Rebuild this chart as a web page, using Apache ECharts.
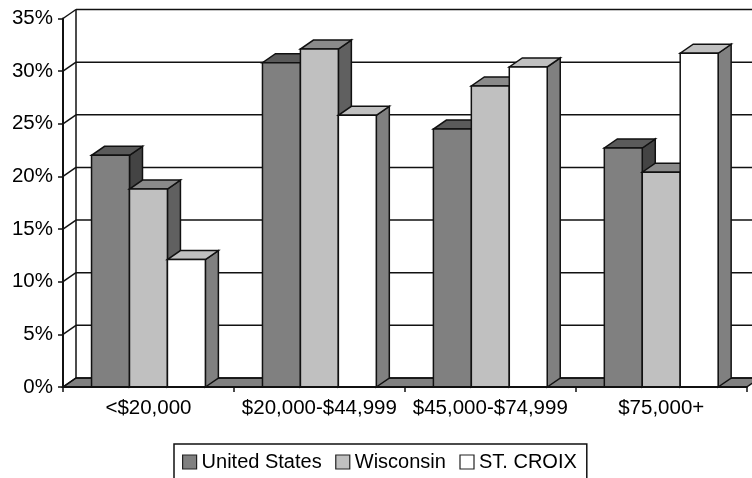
<!DOCTYPE html>
<html>
<head>
<meta charset="utf-8">
<style>html,body{margin:0;padding:0;background:#fff}#chart{width:752px;height:478px}</style>
<script src="https://cdn.jsdelivr.net/npm/echarts@6/dist/echarts.min.js"></script>
</head>
<body>
<div id="chart"></div>
<script>
// Household income distribution by area
const categories = ['<$20,000', '$20,000-$44,999', '$45,000-$74,999', '$75,000+'];
const unitedStates = [22.0, 30.8, 24.5, 22.7];
const wisconsin = [18.8, 32.1, 28.6, 20.4];
const stCroix = [12.1, 25.8, 30.4, 31.7];
const percentTicks = [0, 5, 10, 15, 20, 25, 30, 35];

// Depth of the 3-D box, in pixels along the receding diagonal
const DEPTH_X = 13;
const DEPTH_Y = -9;
const INK = '#111111';
const BAR_SHARE = 0.222;

const barStyles = [
  { front: '#808080', top: '#5a5a5a', side: '#444444' },
  { front: '#c0c0c0', top: '#8a8a8a', side: '#606060' },
  { front: '#ffffff', top: '#c0c0c0', side: '#808080' }
];

function poly(points, fill, stroke) {
  return {
    type: 'polygon',
    shape: { points },
    style: { fill, stroke: stroke || INK, lineWidth: 1.5, lineJoin: 'miter' }
  };
}

function barRenderer(seriesIndex) {
  const look = barStyles[seriesIndex];
  return function (params, api) {
    const cat = api.value(0);
    const base = api.coord([cat, 0]);
    const head = api.coord([cat, api.value(1)]);
    const w = api.size([1, 0])[0] * BAR_SHARE;
    const x0 = base[0] + (seriesIndex - 1.5) * w;
    const x1 = x0 + w;
    const y0 = base[1];
    const y1 = head[1];
    return {
      type: 'group',
      children: [
        poly([[x1, y0], [x1 + DEPTH_X, y0 + DEPTH_Y], [x1 + DEPTH_X, y1 + DEPTH_Y], [x1, y1]], look.side),
        poly([[x0, y1], [x1, y1], [x1 + DEPTH_X, y1 + DEPTH_Y], [x0 + DEPTH_X, y1 + DEPTH_Y]], look.top),
        poly([[x0, y0], [x1, y0], [x1, y1], [x0, y1]], look.front)
      ]
    };
  };
}

// Back wall rules and the short diagonals that join them to the value axis
function wallRenderer(params, api) {
  const v = api.value(0);
  const y = api.coord([0, v])[1];
  const left = api.coord([0, v])[0] - api.size([1, 0])[0] / 2;
  const right = left + api.size([1, 0])[0] * categories.length;
  const line = (x1, y1, x2, y2) => ({
    type: 'line',
    shape: { x1, y1, x2, y2 },
    style: { stroke: INK, lineWidth: 1.5 }
  });
  return {
    type: 'group',
    children: [
      line(left, y, left + DEPTH_X, y + DEPTH_Y),
      line(left + DEPTH_X, y + DEPTH_Y, right + DEPTH_X, y + DEPTH_Y)
    ]
  };
}

// Floor slab and the left wall's back edge
function floorRenderer(params, api) {
  const o = api.coord([0, 0]);
  const t = api.coord([0, percentTicks[percentTicks.length - 1]]);
  const unit = api.size([1, 0])[0];
  const left = o[0] - unit / 2;
  const right = left + unit * categories.length;
  return {
    type: 'group',
    children: [
      poly([[left, o[1]], [right, o[1]], [right + DEPTH_X, o[1] + DEPTH_Y], [left + DEPTH_X, o[1] + DEPTH_Y]], '#808080'),
      {
        type: 'line',
        shape: { x1: left + DEPTH_X, y1: o[1] + DEPTH_Y, x2: left + DEPTH_X, y2: t[1] + DEPTH_Y },
        style: { stroke: INK, lineWidth: 1.5 }
      }
    ]
  };
}

const seriesNames = ['United States', 'Wisconsin', 'ST. CROIX'];
const seriesValues = [unitedStates, wisconsin, stCroix];

const chart = echarts.init(document.getElementById('chart'), null, { renderer: 'canvas' });
chart.setOption({
  animation: false,
  backgroundColor: '#ffffff',
  textStyle: { fontFamily: '"Liberation Sans", Arial, sans-serif' },
  grid: { left: 63, right: 5.3, top: 18.5, bottom: 91 },
  xAxis: {
    type: 'category',
    data: categories,
    boundaryGap: true,
    axisLine: { show: true, lineStyle: { color: INK, width: 2 } },
    axisTick: { show: true, alignWithLabel: false, length: 5, lineStyle: { color: INK, width: 1.5 } },
    axisLabel: { color: '#000', fontSize: 20.5, margin: 11, interval: 0 },
    splitLine: { show: false },
    z: 5
  },
  yAxis: {
    type: 'value',
    min: 0,
    max: 35,
    interval: 5,
    axisLine: { show: true, onZero: false, lineStyle: { color: INK, width: 2 } },
    axisTick: { show: true, length: 5, lineStyle: { color: INK, width: 1.5 } },
    axisLabel: { color: '#000', fontSize: 20.5, margin: 10, formatter: '{value}%' },
    splitLine: { show: false },
    z: 5
  },
  legend: {
    left: 174,
    top: 444,
    orient: 'horizontal',
    padding: [8, 10, 8, 8],
    itemGap: 13.5,
    itemWidth: 14,
    itemHeight: 14,
    borderColor: INK,
    borderWidth: 1.5,
    backgroundColor: '#ffffff',
    icon: 'rect',
    textStyle: { color: '#000', fontSize: 20 },
    data: seriesNames.map((name, i) => ({
      name,
      itemStyle: { color: barStyles[i].front, borderColor: '#222', borderWidth: 1.2 }
    }))
  },
  series: [
    {
      type: 'custom',
      name: 'floor',
      coordinateSystem: 'cartesian2d',
      data: [[0]],
      renderItem: floorRenderer,
      encode: { x: 0 },
      silent: true,
      z: 1
    },
    {
      type: 'custom',
      name: 'wall',
      coordinateSystem: 'cartesian2d',
      data: percentTicks.map(v => [v]),
      renderItem: wallRenderer,
      encode: { y: 0 },
      silent: true,
      z: 1
    }
  ].concat(seriesNames.map((name, i) => ({
    type: 'custom',
    name,
    coordinateSystem: 'cartesian2d',
    itemStyle: { color: barStyles[i].front },
    data: seriesValues[i].map((v, c) => [c, v]),
    encode: { x: 0, y: 1 },
    renderItem: barRenderer(i),
    z: 2 + i
  })))
});
</script>
</body>
</html>
